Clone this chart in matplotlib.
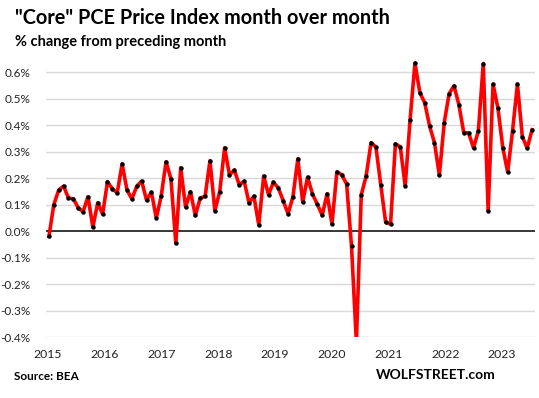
import numpy as np
import pandas as pd
import matplotlib
matplotlib.use("Agg")
import matplotlib.pyplot as plt

values = [
    # 2015
    -0.02, 0.10, 0.155, 0.17, 0.125, 0.122, 0.088, 0.073, 0.13, 0.015, 0.107, 0.064,
    # 2016
    0.187, 0.159, 0.145, 0.254, 0.155, 0.122, 0.17, 0.189, 0.117, 0.147, 0.049, 0.132,
    # 2017
    0.262, 0.197, -0.045, 0.239, 0.091, 0.149, 0.059, 0.125, 0.131, 0.266, 0.077, 0.149,
    # 2018
    0.315, 0.212, 0.231, 0.174, 0.189, 0.107, 0.132, 0.023, 0.208, 0.137, 0.185, 0.163,
    # 2019
    0.115, 0.065, 0.130, 0.273, 0.110, 0.204, 0.140, 0.101, 0.060, 0.141, 0.026, 0.224,
    # 2020
    0.213, 0.178, -0.056, -0.42, 0.137, 0.208, 0.334, 0.318, 0.174, 0.033, 0.027, 0.330,
    # 2021
    0.318, 0.170, 0.420, 0.635, 0.523, 0.485, 0.397, 0.334, 0.211, 0.410, 0.519, 0.549,
    # 2022
    0.478, 0.372, 0.371, 0.314, 0.379, 0.633, 0.076, 0.555, 0.465, 0.315, 0.223, 0.379,
    # 2023
    0.555, 0.357, 0.313, 0.383,
]
months = pd.date_range("2015-01-01", periods=len(values), freq="MS")
year_labels = ["2015", "2016", "2017", "2018", "2019", "2020", "2021", "2022", "2023"]
y_ticks = [-0.4, -0.3, -0.2, -0.1, 0.0, 0.1, 0.2, 0.3, 0.4, 0.5, 0.6]

FONT = ["Lato", "DejaVu Sans"]

fig = plt.figure(figsize=(5.39, 3.98), dpi=100)
ax = fig.add_axes([46/539, 1-337/398, (535-46)/539, (337-56.4)/398])

x = np.arange(len(values))
ax.plot(x, values, color="#ff0000", lw=2.6, zorder=3, solid_joinstyle="round")
ax.plot(x, values, ls="none", marker="o", ms=2.2, color="black", zorder=4)

ax.set_ylim(-0.4, 0.66)
ax.set_xlim(-0.6, len(values) - 0.4)
ax.set_yticks(y_ticks)
ax.set_yticklabels([f"{v:.1f}%".replace("\u2212", "-") for v in y_ticks], fontfamily=FONT, fontsize=8.5, color="#222222")
for v in y_ticks:
    if v != 0:
        ax.axhline(v, color="#d9d9d9", lw=1, zorder=1)
ax.axhline(0, color="black", lw=1.1, zorder=2)

tick_pos = np.arange(len(year_labels)) * 11.63 - 0.2
ax.set_xticks(tick_pos)
ax.set_xticklabels(year_labels, fontfamily=FONT, fontsize=8.8, color="#222222")
ax.tick_params(length=0)
ax.tick_params(axis="x", pad=9)
ax.tick_params(axis="y", pad=11)
for s in ax.spines.values():
    s.set_visible(False)

fig.text(15/539, 1-18/398, '"Core" PCE Price Index month over month', fontfamily=FONT,
         fontweight="bold", fontsize=14.3, va="center", ha="left")
fig.text(15/539, 1-42/398, "% change from preceding month", fontfamily=FONT,
         fontweight="bold", fontsize=10.5, va="center", ha="left")
fig.text(14/539, 1-377/398, "Source: BEA", fontfamily=FONT,
         fontweight="bold", fontsize=8.5, va="center", ha="left")
fig.text(376/539, 1-375/398, "WOLFSTREET.com", fontfamily=FONT,
         fontweight="bold", fontsize=10, va="center", ha="left")

fig.savefig("out.png", dpi=100, facecolor="white")
